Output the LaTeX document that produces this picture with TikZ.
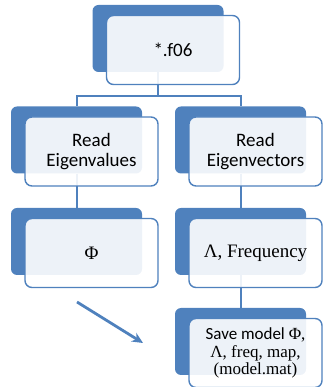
\documentclass[tikz,border=0pt]{standalone}
\usepackage{fontspec}
\setmainfont{Liberation Serif}
\setsansfont{Carlito}
\usetikzlibrary{positioning,arrows.meta}
\definecolor{accent}{HTML}{4F81BD}

\begin{document}
\begin{tikzpicture}[
  x=1pt, y=1pt,
  back/.style={rectangle, fill=accent, rounded corners=6pt, inner sep=0pt,
               minimum width=131pt, minimum height=67pt},
  front/.style={rectangle, draw=accent, line width=1.4pt, fill=white,
                fill opacity=0.9, text opacity=1, rounded corners=7pt,
                minimum width=133pt, minimum height=69pt, inner sep=2pt,
                align=center, xshift=15pt, yshift=-11.5pt,
                font=\fontsize{19}{20}\selectfont\sffamily},
  serif/.style={font=\fontsize{19}{20}\selectfont\rmfamily},
  link/.style={draw=accent, line width=2pt},
  arrow/.style={-{Stealth[length=11pt,width=10pt]}, draw=accent, line width=2.8pt}
]
  \useasboundingbox (0,0) rectangle (323,387);

  % back plates
  \node[back] (filebk)  at (158,348.5)  {};
  \node[back] (evalbk)  at (76.5,247)   {};
  \node[back] (evecbk)  at (240.5,247)  {};
  \node[back] (phibk)   at (76.5,145.5) {};
  \node[back] (lambk)   at (240.5,145.5) {};
  \node[back] (savebk)  at (240.5,45.5) {};

  % connectors
  \draw[link] (filebk.south) -- ++(0,-24) coordinate (fork) -| (evalbk.north);
  \draw[link] (fork) -| (evecbk.north);
  \draw[link] (evalbk.south) -- (phibk.north);
  \draw[link] (evecbk.south) -- (lambk.north);
  \draw[link] (lambk.south)  -- (savebk.north);

  % front boxes
  \node[front] (file) at (filebk) {*.f06};
  \node[front] (eval) at (evalbk) {Read\\Eigenvalues};
  \node[front] (evec) at (evecbk) {Read\\Eigenvectors};
  \node[front,serif] (phi) at (phibk) {Φ};
  \node[front,serif] (lam) at (lambk) {Λ, Frequency};
  \node[front,font=\fontsize{17}{17.5}\selectfont\sffamily] (save) at (savebk)
    {Save model {\rmfamily Φ,}\\{\rmfamily Λ, freq, map,}\\{\rmfamily (model.mat)}};

  % free arrow
  \coordinate (tail) at (77,85);
  \coordinate (head) at (143,44);
  \draw[arrow] (tail) -- (head);
\end{tikzpicture}
\end{document}
